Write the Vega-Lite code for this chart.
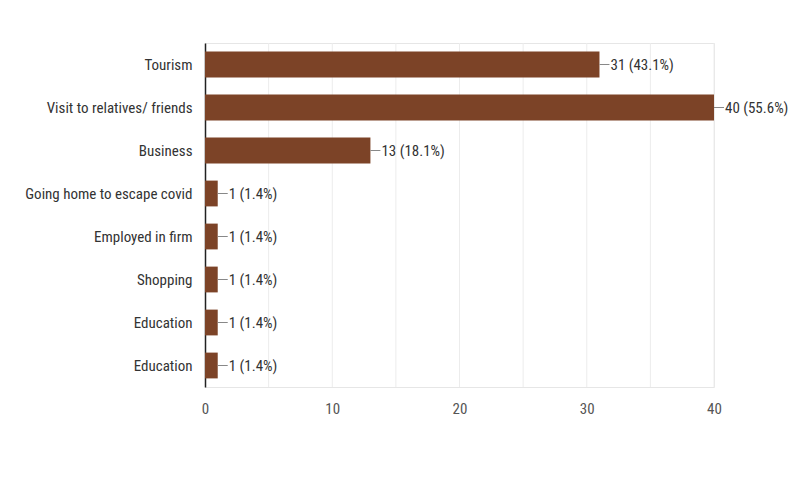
{
  "$schema": "https://vega.github.io/schema/vega-lite/v6.json",
  "autosize": {"type": "none"},
  "width": 509,
  "height": 344,
  "padding": {"left": 205, "top": 43, "right": 79, "bottom": 101},
  "background": "white",
  "config": {
    "font": "Roboto Condensed, DejaVu Sans Condensed, Liberation Sans, sans-serif",
    "view": {"stroke": "#e6e6e6", "strokeWidth": 1}
  },
  "data": {
    "values": [
      {"purpose": "Tourism", "count": 31, "label": "31 (43.1%)"},
      {"purpose": "Visit to relatives/ friends", "count": 40, "label": "40 (55.6%)"},
      {"purpose": "Business", "count": 13, "label": "13 (18.1%)"},
      {"purpose": "Going home to escape covid", "count": 1, "label": "1 (1.4%)"},
      {"purpose": "Employed in firm", "count": 1, "label": "1 (1.4%)"},
      {"purpose": "Shopping", "count": 1, "label": "1 (1.4%)"},
      {"purpose": "Education", "count": 1, "label": "1 (1.4%)"},
      {"purpose": "Education\u200b", "count": 1, "label": "1 (1.4%)"}
    ]
  },
  "encoding": {
    "y": {
      "field": "purpose",
      "type": "nominal",
      "sort": null,
      "scale": {"paddingInner": 0.4, "paddingOuter": 0.2},
      "axis": {
        "title": null,
        "ticks": false,
        "domainColor": "#222222",
        "domainWidth": 1.5,
        "labelFont": "Roboto Condensed, DejaVu Sans Condensed, Liberation Sans, sans-serif",
        "labelFontSize": 15,
        "labelColor": "#333333",
        "labelPadding": 13,
        "labelLimit": 300
      }
    },
    "x": {
      "field": "count",
      "type": "quantitative",
      "scale": {"domain": [0, 40], "nice": false},
      "axis": {
        "title": null,
        "values": [0, 10, 20, 30, 40],
        "ticks": false,
        "domain": false,
        "grid": false,
        "labelFlush": false,
        "labelFont": "Roboto Condensed, DejaVu Sans Condensed, Liberation Sans, sans-serif",
        "labelFontSize": 15,
        "labelColor": "#555555",
        "labelPadding": 14
      }
    }
  },
  "layer": [
    {
      "mark": {"type": "rule", "color": "#ececec", "strokeWidth": 1},
      "data": {"values": [{"g": 5}, {"g": 10}, {"g": 15}, {"g": 20}, {"g": 25}, {"g": 30}, {"g": 35}, {"g": 40}]},
      "encoding": {
        "x": {"field": "g", "type": "quantitative"},
        "y": null
      }
    },
    {
      "mark": {"type": "bar", "color": "#7c4327"}
    },
    {
      "mark": {"type": "rule", "color": "#888888", "strokeWidth": 1, "x2Offset": 10},
      "encoding": {"x2": {"field": "count"}}
    },
    {
      "mark": {"type": "text", "align": "left", "dx": 11, "fontSize": 15, "color": "#333333", "font": "Roboto Condensed, DejaVu Sans Condensed, Liberation Sans, sans-serif"},
      "encoding": {"text": {"field": "label"}}
    }
  ]
}
